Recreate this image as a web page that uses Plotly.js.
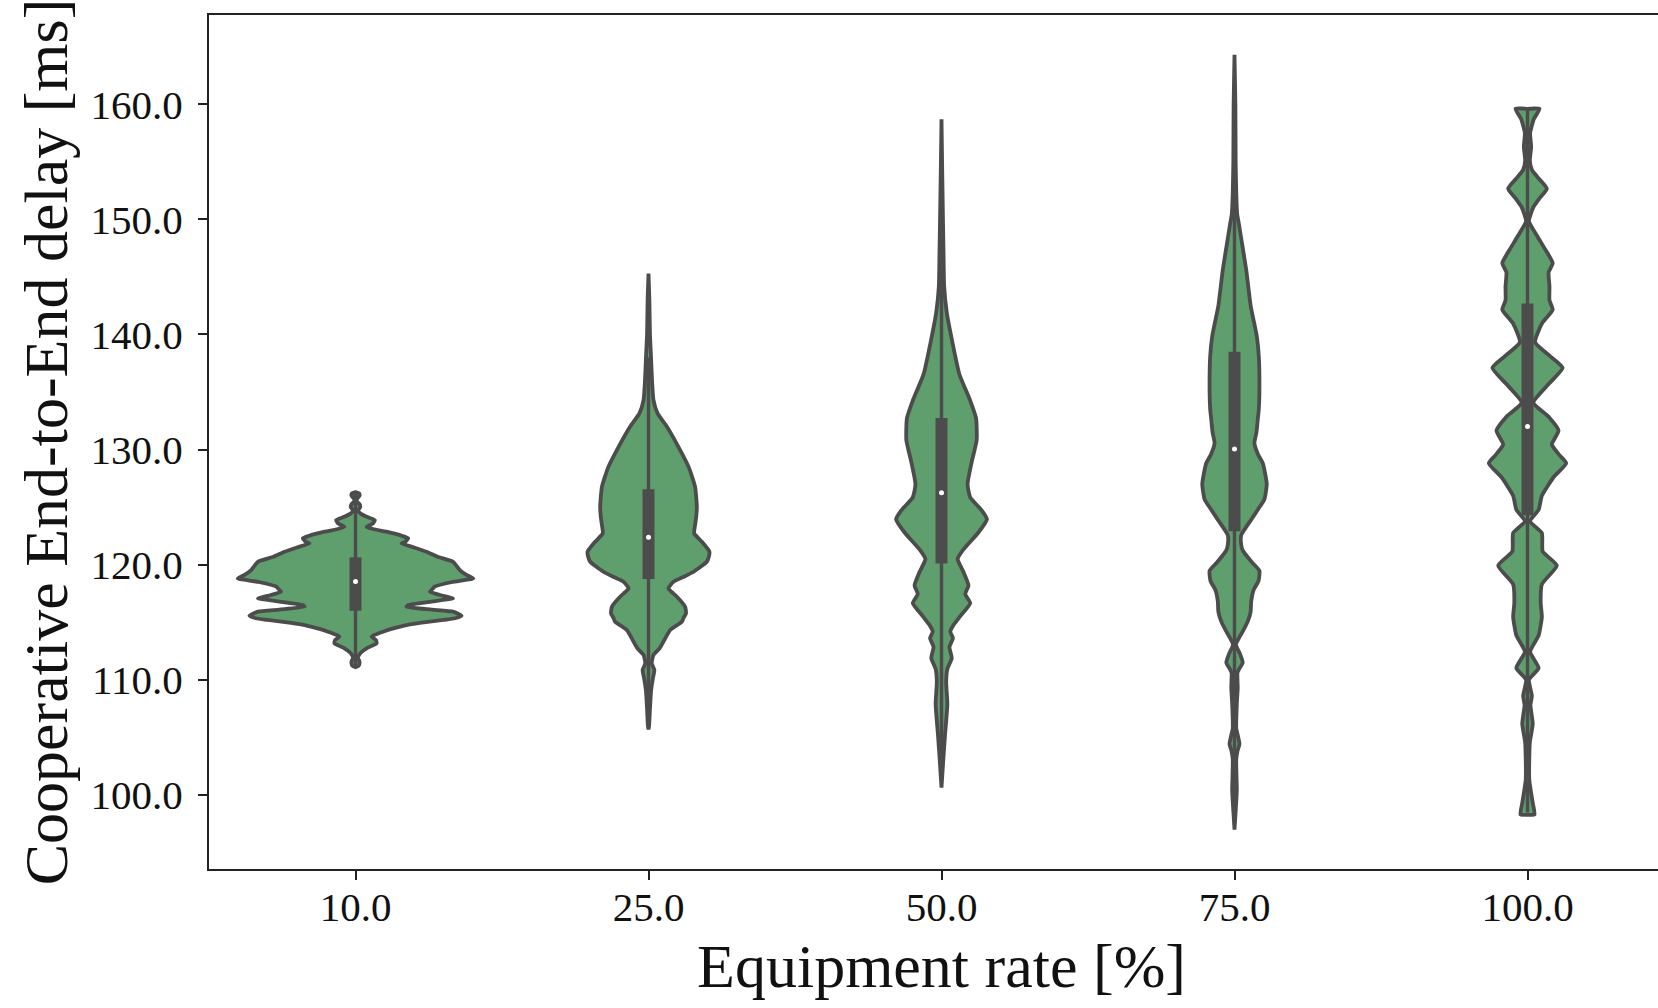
<!DOCTYPE html>
<html>
<head>
<meta charset="utf-8">
<script src="https://cdn.plot.ly/plotly-3.0.1.min.js"></script>
<style>
  html, body { margin: 0; padding: 0; overflow: hidden; background: #ffffff; }
  #chart { width: 1680px; height: 1008px; }
</style>
</head>
<body>
<div id="chart"></div>
<script>
// ---------------- data ----------------
const categories = ['10.0', '25.0', '50.0', '75.0', '100.0'];

const yTickVals = [100, 110, 120, 130, 140, 150, 160];
const yTickText = ['100.0', '110.0', '120.0', '130.0', '140.0', '150.0', '160.0'];

// violin density profiles: delay value [ms] and half width (category units), top to bottom
const profileY10 = [126.3, 126.2, 126.0, 125.75, 125.5, 125.25, 125.0, 124.7, 124.4, 124.1, 123.88, 123.6, 123.3, 123.1, 122.87, 122.5, 122.29, 122.0, 121.85, 121.5, 121.13, 120.7, 120.26, 119.9, 119.54, 119.1, 118.81, 118.5, 118.1, 117.95, 117.66, 117.3, 117.08, 116.8, 116.5, 116.35, 116.1, 115.92, 115.57, 115.35, 115.2, 114.95, 114.76, 114.4, 114.18, 113.95, 113.75, 113.45, 113.17, 112.95, 112.74, 112.4, 112.16, 111.9, 111.72, 111.45, 111.2, 111.1];
const profileW10 = [0, 0.012, 0.014, 0.006, 0.004, 0.014, 0.016, 0.008, 0.02, 0.045, 0.066, 0.06, 0.038, 0.06, 0.106, 0.16, 0.18, 0.17, 0.157, 0.2, 0.242, 0.28, 0.333, 0.345, 0.356, 0.38, 0.402, 0.33, 0.27, 0.265, 0.254, 0.3, 0.333, 0.26, 0.18, 0.174, 0.26, 0.333, 0.362, 0.34, 0.3, 0.22, 0.174, 0.12, 0.094, 0.07, 0.055, 0.07, 0.072, 0.055, 0.038, 0.02, 0.012, 0.008, 0.012, 0.014, 0.01, 0];

const profileY25 = [145.3, 143, 140, 137.8, 136, 134.3, 133.14, 131.98, 130.24, 128.5, 126.77, 125.03, 124.2, 123.6, 122.72, 122.0, 121.13, 120.7, 120.26, 119.39, 118.95, 118.52, 117.94, 117.5, 117.22, 116.35, 115.78, 115.4, 115.05, 114.33, 113.6, 112.74, 112.16, 111.44, 110.86, 110.5, 110.13, 109.12, 107.5, 106, 105.7];
const profileW25 = [0, 0.003, 0.005, 0.009, 0.012, 0.017, 0.031, 0.063, 0.102, 0.137, 0.159, 0.165, 0.163, 0.16, 0.156, 0.182, 0.208, 0.206, 0.199, 0.154, 0.12, 0.085, 0.068, 0.085, 0.097, 0.125, 0.128, 0.12, 0.114, 0.074, 0.057, 0.038, 0.017, 0.011, 0.02, 0.018, 0.015, 0.009, 0.005, 0.002, 0];

const profileY50 = [158.7, 155, 150, 147, 144.2, 141.9, 139.6, 136.55, 134.26, 132.73, 130.82, 128.91, 127.0, 125.85, 124.7, 123.94, 122.8, 121.27, 120.5, 119.36, 118.2, 117.44, 116.67, 115.53, 114.76, 114.19, 113.61, 112.85, 111.9, 110.94, 109.8, 107.89, 105.2, 103, 100.63];
const profileW50 = [0, 0.002, 0.005, 0.007, 0.009, 0.018, 0.035, 0.061, 0.098, 0.118, 0.12, 0.103, 0.089, 0.098, 0.138, 0.155, 0.126, 0.073, 0.055, 0.075, 0.092, 0.081, 0.098, 0.064, 0.041, 0.03, 0.039, 0.027, 0.035, 0.02, 0.016, 0.02, 0.012, 0.006, 0];

const profileY75 = [164.3, 160, 155, 152.3, 150.5, 149.6, 147.85, 145.62, 142.52, 139.86, 138.09, 135.0, 133.5, 132.77, 131.5, 130.56, 129.6, 128.78, 127.0, 125.68, 124.8, 123.91, 122.58, 121.9, 121.25, 120.2, 119.48, 118.6, 117.8, 116.83, 115.9, 115.06, 114.3, 113.72, 113.06, 112.3, 111.5, 110.9, 110.6, 109.3, 107.96, 106.5, 105.75, 105.1, 104.42, 103.8, 103.09, 101.5, 100.43, 99, 97.0];
const profileW75 = [0, 0.003, 0.004, 0.006, 0.009, 0.015, 0.026, 0.04, 0.055, 0.076, 0.083, 0.085, 0.083, 0.08, 0.075, 0.068, 0.08, 0.097, 0.11, 0.102, 0.08, 0.057, 0.023, 0.022, 0.028, 0.06, 0.085, 0.082, 0.065, 0.057, 0.055, 0.045, 0.03, 0.017, 0.005, 0.018, 0.028, 0.015, 0.01, 0.011, 0.008, 0.006, 0.006, 0.012, 0.017, 0.01, 0.006, 0.007, 0.008, 0.005, 0];

const profileY100 = [159.6, 159.6, 158.73, 157.5, 156.3, 155.1, 154.3, 153.5, 152.66, 151.8, 151.06, 149.84, 148.6, 147.41, 146.2, 145.39, 144.18, 142.97, 142.16, 140.94, 139.33, 138.12, 137.1, 135.69, 134.07, 132.86, 131.65, 130.44, 129.5, 128.82, 127.6, 125.99, 124.77, 123.77, 122.75, 121.14, 119.93, 118.3, 116.69, 115.47, 113.86, 112.44, 111.03, 110.02, 108.61, 107.8, 106.18, 104.56, 101.33, 99.3, 98.3, 98.3];
const profileW100 = [0, 0.041, 0.022, 0.009, 0.0125, 0.008, 0.015, 0.04, 0.066, 0.04, 0.02, 0.005, 0.032, 0.06, 0.086, 0.072, 0.075, 0.075, 0.086, 0.049, 0.026, 0.077, 0.12, 0.072, 0.02, 0.072, 0.106, 0.083, 0.11, 0.132, 0.089, 0.049, 0.038, 0.009, 0.049, 0.052, 0.1, 0.049, 0.045, 0.049, 0.038, 0.009, 0.038, 0.005, 0.015, 0.01, 0.018, 0.008, 0.006, 0.018, 0.024, 0];

// inner box statistics
const quartile1 = [116.0, 118.75, 120.1, 122.9, 124.3];
const quartile3 = [120.64, 126.55, 132.75, 138.5, 142.7];
const medians = [118.55, 122.38, 126.25, 130.05, 132.0];
const whiskerLow = [111.2, 107.0, 101.5, 99.5, 98.5];
const whiskerHigh = [126.2, 138.0, 151.5, 161.5, 159.5];

// ---------------- build traces ----------------
const profilesY = [profileY10, profileY25, profileY50, profileY75, profileY100];
const profilesW = [profileW10, profileW25, profileW50, profileW75, profileW100];

const FILL = '#5f9e6d';
const GRAY = '#4c4c4c';
const traces = [];

categories.forEach((cat, i) => {
  const ys = profilesY[i], ws = profilesW[i];
  const px = [], py = [];
  for (let k = 0; k < ys.length; k++) { px.push(i + ws[k]); py.push(ys[k]); }
  for (let k = ys.length - 1; k >= 0; k--) { px.push(i - ws[k]); py.push(ys[k]); }
  px.push(px[0]); py.push(py[0]);
  traces.push({
    type: 'scatter', mode: 'lines', x: px, y: py,
    fill: 'toself', fillcolor: FILL,
    line: { color: GRAY, width: 3.8, shape: 'spline', smoothing: 0.5 },
    hoverinfo: 'skip', showlegend: false
  });
});

// whiskers
const wx = [], wy = [];
categories.forEach((c, i) => { wx.push(i, i, null); wy.push(whiskerLow[i], whiskerHigh[i], null); });
traces.push({ type: 'scatter', mode: 'lines', x: wx, y: wy,
  line: { color: GRAY, width: 3.4 }, hoverinfo: 'skip', showlegend: false });

// boxes (IQR)
const bx = [], by = [];
categories.forEach((c, i) => { bx.push(i, i, null); by.push(quartile1[i], quartile3[i], null); });
traces.push({ type: 'scatter', mode: 'lines', x: bx, y: by,
  line: { color: GRAY, width: 12 }, hoverinfo: 'skip', showlegend: false });

// medians
traces.push({ type: 'scatter', mode: 'markers', x: categories.map((c, i) => i), y: medians,
  marker: { color: '#ffffff', size: 5, line: { width: 0 } }, hoverinfo: 'skip', showlegend: false });

const FONT = 'Liberation Serif, Times New Roman, serif';

const layout = {
  width: 1680, height: 1008,
  margin: { l: 209, r: 6, t: 15, b: 139 },
  paper_bgcolor: '#ffffff', plot_bgcolor: '#ffffff',
  showlegend: false,
  font: { family: FONT, color: '#111111' },
  xaxis: {
    range: [-0.5, 4.5],
    tickvals: categories.map((c, i) => i), ticktext: categories,
    showgrid: false, zeroline: false,
    showline: true, linecolor: '#222222', linewidth: 2, mirror: true,
    ticks: 'outside', ticklen: 9, tickwidth: 2, tickcolor: '#222222',
    ticklabelstandoff: -8,
    tickfont: { family: FONT, size: 41, color: '#111111' },
    title: { text: 'Equipment rate [%]', font: { family: FONT, size: 62, color: '#111111' }, standoff: 14 }
  },
  yaxis: {
    range: [93.57, 167.75],
    tickvals: yTickVals, ticktext: yTickText,
    showgrid: false, zeroline: false,
    showline: true, linecolor: '#222222', linewidth: 2, mirror: true,
    ticks: 'outside', ticklen: 9, tickwidth: 2, tickcolor: '#222222',
    ticklabelstandoff: 7,
    tickfont: { family: FONT, size: 41, color: '#111111' },
    title: { text: 'Cooperative End-to-End delay [ms]', font: { family: FONT, size: 62, color: '#111111' }, standoff: 3 }
  }
};

Plotly.newPlot('chart', traces, layout, { displayModeBar: false, staticPlot: true });
</script>
</body>
</html>
